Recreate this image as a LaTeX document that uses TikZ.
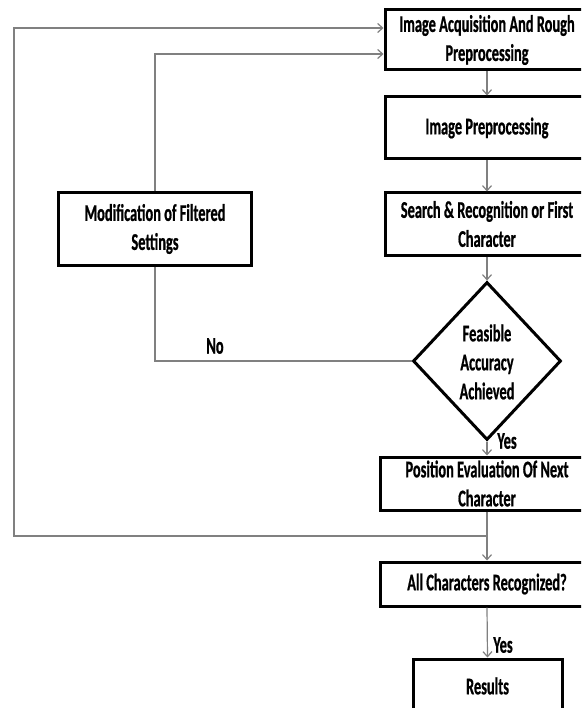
\documentclass[tikz,border=0pt]{standalone}
\usepackage{fontspec}
\newfontfamily\flowfont{Carlito}[FakeStretch=0.6, BoldFeatures={FakeBold=0.7}]
\usetikzlibrary{shapes.geometric,arrows.meta}
\definecolor{linegray}{RGB}{128,128,128}

\begin{document}
\begin{tikzpicture}[x=1pt,y=-1pt,
  txt/.style={font=\flowfont\bfseries\fontsize{24}{29}\selectfont, align=center, inner sep=0pt},
  stepbox/.style={txt, draw=black, line width=3pt, rectangle},
  decbox/.style={draw=black, line width=3pt, diamond, inner sep=0pt,
    minimum width=148pt, minimum height=158pt},
  link/.style={draw=linegray, line width=1.2pt},
  flow/.style={link, -{Straight Barb[length=5pt,width=9pt]}}]

\useasboundingbox (0,0) rectangle (581,708);
\clip (0,0) rectangle (581,708);
\fill[white] (0,0) rectangle (581,708);

% main column of steps
\node[stepbox, minimum width=204pt, minimum height=60pt] (acq) at (487,40)
  {Image Acquisition And Rough\\Preprocessing};
\node[stepbox, minimum width=204pt, minimum height=62pt] (pre) at (487,128)
  {Image Preprocessing};
\node[stepbox, minimum width=204pt, minimum height=62pt] (srch) at (487,224)
  {Search \& Recognition or First\\Character};
\node[decbox] (dec) at (487,361) {};
\node[txt] (dectext) at (487,362) {Feasible\\Accuracy\\Achieved};
\node[stepbox, minimum width=214pt, minimum height=53pt] (pos) at (487,483.5)
  {Position Evaluation Of Next\\Character};
\node[stepbox, minimum width=214pt, minimum height=44pt] (all) at (487,584)
  {All Characters Recognized?};
\node[stepbox, minimum width=149pt, minimum height=54pt] (res) at (487.5,686)
  {Results};

% side step for the retry loop
\node[stepbox, minimum width=193pt, minimum height=72pt] (mod) at (155,229)
  {Modification of Filtered\\Settings};

% labels
\node[txt] (yes1) at (507,441) {Yes};
\node[txt] (yes2) at (503,645) {Yes};
\node[txt] (no) at (215,346) {No};

% loop corners
\coordinate (split) at (487,536);
\coordinate (outerB) at (14,536);
\coordinate (outerT) at (14,28);
\coordinate (innerB) at (155,361);
\coordinate (innerT) at (155,54);

% forward flow
\draw[flow] (acq.south) -- (pre.north);
\draw[flow] (pre.south) -- (srch.north);
\draw[flow] (srch.south) -- (dec.north);
\draw[flow] (dec.south) -- (pos.north);
\draw[flow] (pos.south) -- (all.north);
\draw[flow] (all.south) -- (res.north);

% outer loop back to acquisition
\draw[flow] (split) -- (outerB) -- (outerT) -- (outerT -| acq.west);

% inner loop through the filter modification
\draw[link] (dec.west) -- (innerB) -- (mod.south);
\draw[flow] (mod.north) -- (innerT) -- (innerT -| acq.west);
\end{tikzpicture}
\end{document}
